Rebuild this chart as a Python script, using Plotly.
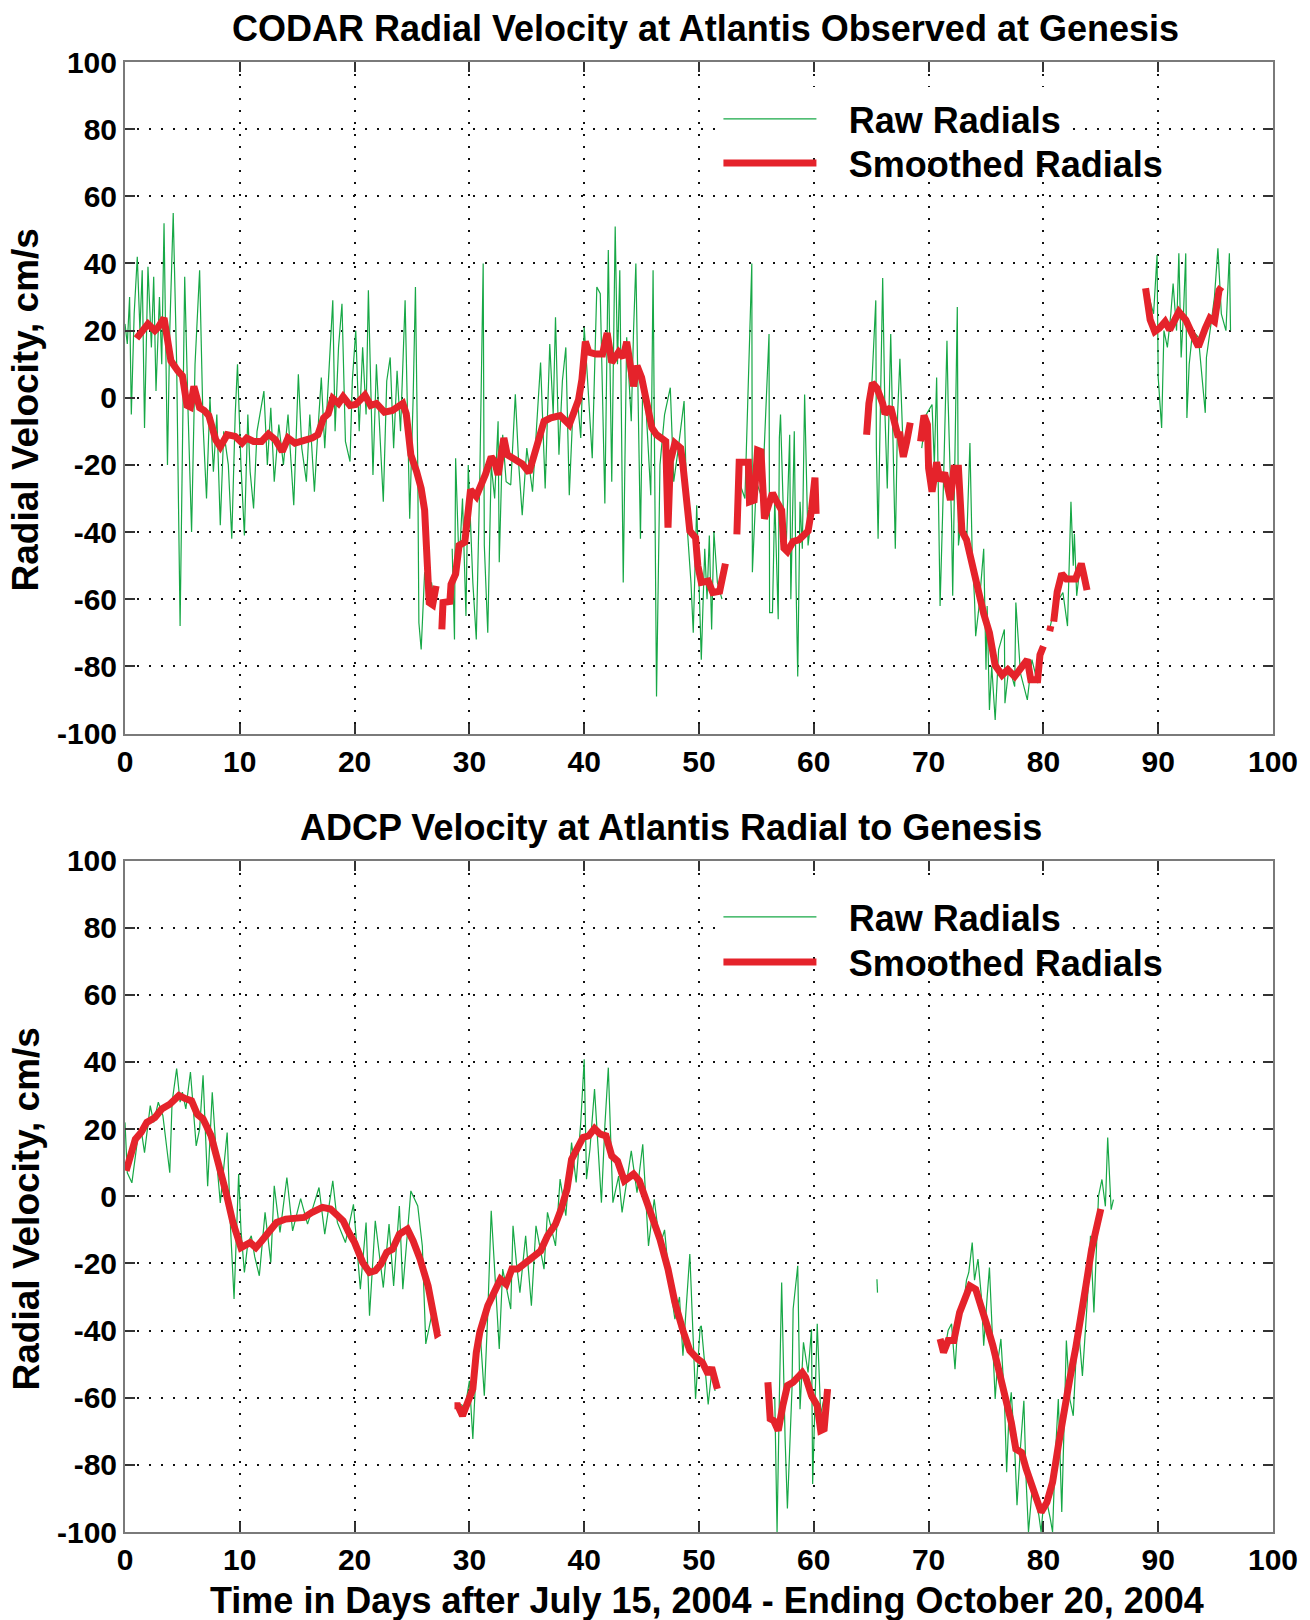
import plotly.graph_objects as go

N = None
# ---------------- Top panel: CODAR ----------------
codar_raw_day = [
    0.0, 0.2, 0.4, 0.55, 0.8, 1.07, 1.3, 1.5, 1.7, 2.0, 2.3, 2.5, 2.7, 3.0, 3.2, 3.4, 3.7, 3.9, 4.2, 4.5,
    4.8, 5.0, 5.2, 5.5, 5.8, 6.1, 6.5, 6.8, 7.1, 7.4, 7.7, 8.0, 8.3, 8.6, 9.0, 9.3, 9.6, 9.8, 10.1, 10.4,
    10.7, 10.9, 11.2, 11.5, 12.1, 12.4, 12.7, 13.0, 13.4, 13.8, 14.2, 14.7, 15.1, 15.4, 15.8, 16.1, 16.5,
    16.8, 17.1, 17.4, 17.7, 18.1, 18.3, 18.6, 18.9, 19.2, 19.6, 19.8, 20.1, 20.4, 20.7, 21.0, 21.2, 21.6,
    21.9, 22.2, 22.5, 22.8, 23.1, 23.4, 23.7, 24.0, 24.4, 24.8, 25.1, 25.3, 25.5, 25.6, 25.8, 26.1, 26.4,
    26.7, 27.0, N,
    28.5, 28.7, 28.8, 29.1, 29.4, 29.7, 29.9, 30.1, 30.3, 30.6, 30.9, 31.2, 31.3, 31.6, 31.9, 32.2, 32.5,
    32.6, 32.9, 33.2, 33.6, 34.0, 34.3, 34.6, 35.0, 35.5, 35.8, 36.2, 36.6, 37.0, 37.3, 37.5, 37.8, 38.1,
    38.4, 38.7, 39.0, 39.4, 39.7, 40.0, 40.3, 40.7, 41.1, 41.4, 41.6, 41.8, 42.1, 42.4, 42.7, 42.9, 43.1,
    43.4, 43.7, 44.1, 44.3, 44.5, 44.9, 45.1, 45.4, 45.8, 46.0, 46.3, 46.6, 47.0, 47.5, 47.8, 48.2, 48.7,
    49.0, 49.3, 49.5, 49.8, 50.2, 50.5, 50.7, 50.9, 51.1, 51.3, 51.6, 52.0, N,
    53.5, 54.0, 54.6, 54.65, 55.0, 55.5, 56.1, 56.15, 56.4, 56.6, 56.9, 57.0, 57.1, 57.4, 57.6, 57.9, 58.0,
    58.3, 58.45, 58.6, 58.8, 59.0, 59.2, 59.5, 59.8, 60.1, N,
    64.7, 65.0, 65.4, 65.45, 65.6, 65.8, 66.0, 66.2, 66.4, 66.7, 66.9, 67.1, 67.3, 67.5, 67.8, 68.1, N,
    69.4, 69.8, 70.3, 70.5, 70.7, 70.9, 71.0, 71.3, 71.6, 71.7, 72.0, 72.1, 72.3, 72.5, 72.6, 72.9, 73.3,
    73.6, 73.8, 74.0, 74.1, 74.4, 74.8, 75.0, 75.1, 75.3, 75.5, 75.8, 76.1, 76.6, 76.65, 77.0, 77.5, 77.6,
    78.0, 78.6, 79.0, 79.5, 80.0, N,
    80.6, 81.0, 81.7, 82.1, 82.4, 82.6, 82.7, 82.9, 83.2, 83.5, N,
    89.2, 89.6, 89.9, 90.0, 90.3, 90.5, 90.8, 91.1, 91.3, 91.6, 91.8, 92.0, 92.2, 92.4, 92.5, 92.7, 93.0,
    93.5, 94.1, 94.2, 94.6, 94.9, 95.2, 95.5, 95.9, 96.2, 96.3,
]
codar_raw_vel = [
    22, 16, 30, -5, 25, 42, 20, 38, -9, 39, 15, 36, 2, 30, 10, 52, -20, 20, 55, 10,
    -68, -10, 36, -5, -40, 10, 38, -8, -30, 0, -22, -5, -38, -10, -20, -42, -5, 10, -20, -41,
    -5, -22, -33, -10, 2, -20, -3, -25, -8, -20, -5, -32, 7, -15, -25, -5, -28,
    -10, 6, -15, 5, 29, -10, 15, 28, -13, -19, 5, 20, -10, 15, -5, 32, -23,
    10, -10, -31, 5, 12, -15, 8, -10, 29, -36, 0, 33, -20, -67, -75, -52, -60,
    -55, -62, N,
    -45, -72, -18, -50, -30, -65, -20, -40, -55, -72, -25, 40, -44, -70, -20, -30, -7,
    -49, -11, -25, -26, 1, -20, -35, -15, -28, -10, 10.5, -27, 16, -5, 24, -17, 5,
    15, -29, -5, 0, -12, 21, 5, -18, 33, 31, 0, -31.5, 44, -25, 51, 10, 38,
    -55, 18, -7, 20, 40, -42, 5, -4, -29, 38, -89, -20, -5, 3, -25, -15, -1,
    -40, -55, -70, -32, -78, -45, -60, -41, -69, -40, -55, -60, N,
    -25, -30, 40, -52, -25, -30, 19, -64, -64, -30, -66, -12, -5, -40, -44, -11, -60,
    -10, -55, -83, -31, -45, 1, -44, -35, -28, N,
    -10, 0, 29, -15, -42, 0, 35.7, -5, -27, 19, -10, -45, -5, 11.6, -17, -10, N,
    -15, -5, -2, -20, 6, -51, -62, -25, 17, -1, -37, -59, -20, 27, -44, -35, -45,
    -13.5, -47, -60, -71, -62, -45, -81, -62, -93, -80, -96, -75, -69, -91, -80, -86, -61,
    -82, -90, -78, -85, -75, N,
    -68, -62, -58, -68, -31, -50, -40.5, -59, -50, -55, N,
    30, 25, 42.5, 6, -9, 20, 15, 25, 34, 20, 43, 12, 25, 43, -6, 10, 20,
    18, -4.5, 12, 22, 30, 44.5, 25, 20, 43, 20,
]
codar_smooth_day = [
    1.0, 1.4, 2.0, 2.6, 2.9, 3.4, 3.7, 4.0, 4.6, 5.0, 5.4, 5.7, 6.0, 6.5, 6.9, 7.3, 7.9, 8.3, 8.9, 9.6,
    10.2, 10.6, 11.2, 11.9, 12.5, 13.1, 13.7, 14.2, 14.8, 15.5, 16.3, 16.8, 17.3, 17.7, 18.1, 18.6, 19.0,
    19.6, 20.1, 20.9, 21.4, 21.9, 22.6, 23.3, 23.7, 24.2, 24.5, 24.9, 25.4, 25.8, 26.1, 26.4, 26.5, 26.8,
    27.1, N,
    27.6, 27.7, 28.3, 28.4, 28.8, 29.1, 29.6, 29.9, 30.1, 30.6, 31.2, 31.4, 31.9, 32.2, 32.5, 32.7, 33.0,
    33.3, 34.0, 34.6, 35.2, 35.6, 36.1, 36.5, 37.1, 37.9, 38.7, 39.1, 39.5, 39.8, 40.1, 40.4, 41.0, 41.6,
    42.0, 42.4, 43.0, 43.4, 43.7, 44.3, 44.6, 45.0, 45.5, 45.9, 46.3, 46.8, 47.1, 47.3, 47.5, 47.9, 48.4,
    48.6, 48.9, 49.2, 49.7, 49.9, 50.2, 50.8, 51.2, 51.8, 52.3, N,
    53.3, 53.5, 54.3, 54.4, 54.8, 55.1, 55.4, 55.7, 56.1, 56.4, 56.7, 57.2, 57.4, 57.7, 58.2, 58.7, 59.5,
    59.8, 60.1, 60.2, N,
    64.6, 64.8, 65.1, 65.5, 66.0, 66.2, 66.7, 67.0, 67.3, 67.5, 67.8, 68.1, 68.4, N,
    69.3, 69.6, 69.9, 70.0, 70.3, 70.7, 71.0, 71.4, 71.9, 72.2, 72.6, 72.9, 73.3, 73.8, 74.3, 74.8, 75.3,
    75.8, 76.4, 76.9, 77.5, 78.0, 78.6, 78.9, 79.5, 79.7, 80.0, N,
    80.55, 80.65, N,
    80.9, 81.2, 81.6, 82.0, 82.8, 83.3, 83.5, 83.8, N,
    88.9, 89.3, 89.7, 90.1, 90.6, 91.0, 91.8, 92.4, 93.0, 93.5, 94.1, 94.5, 94.9, 95.3, 95.5,
]
codar_smooth_vel = [
    17.7, 19.3, 22, 20, 21, 23.7, 15.7, 11, 8, 6.5, -2.3, -2.8, 3.4, -3, -3.8, -5.3, -12.5, -14.6, -11, -11.5,
    -13.5, -12, -13, -13, -10.8, -12.5, -16, -12, -13.5, -13, -12, -11, -6, -4.8, -0.2, -1.7, 0.3,
    -2.3, -2, 0.8, -2.3, -1.7, -4.3, -3.8, -2.8, -1.7, -4.8, -17, -22, -27, -33.5, -49, -61, -61.7,
    -56, N,
    -69, -61, -60.7, -55.6, -52.5, -44, -43, -35.6, -27.4, -29.4, -25.3, -22.8, -17.6, -19, -23, -17.6, -12,
    -17, -18.7, -19.7, -22.3, -17, -12, -7, -6, -5.3, -8, -3.8, -0.7, 5.4, 16.7, 13.6, 13, 13,
    19.3, 10.5, 13.6, 12, 16.7, 3.4, 9.5, 6, -1.7, -9, -11, -12, -13, -38.7, -19, -13.5, -15,
    -20, -31.5, -39.7, -41.7, -50, -55, -54.6, -58, -57.6, -49.4, N,
    -40.7, -19.2, -19.2, -31, -30.5, -15.6, -16, -36, -31.5, -28.4, -30.5, -33.5, -44.8, -45.8, -42.8, -42.3, -39.7,
    -33.5, -23.8, -34.6, N,
    -11, -1.7, 4.4, 2.9, -1.7, -4.8, -2.8, -7, -11, -11, -17.6, -13, -7.4, N,
    -13, -5.3, -8, -21, -28, -19.2, -24.8, -22.3, -30.5, -21, -21, -39.7, -42.3, -50, -57, -64.3, -70,
    -79.7, -82.6, -81, -83, -81, -78, -84, -84, -76.6, -74, N,
    -69.5, -68, N,
    -66.7, -57.8, -52.4, -54, -54, -49.4, -52.4, -57.3, N,
    32.6, 23.2, 19.7, 20.7, 22.7, 20.2, 25.6, 23.2, 18.7, 15.2, 20.7, 23.7, 22.7, 32, 33,
]

# ---------------- Bottom panel: ADCP ----------------
adcp_raw_day = [
    0.0, 0.2, 0.6, 1.1, 1.4, 1.7, 2.2, 2.5, 2.9, 3.3, 3.9, 4.1, 4.5, 4.8, 5.0, 5.3, 5.7, 6.0, 6.2, 6.5,
    6.8, 7.2, 7.6, 8.0, 8.3, 8.9, 9.2, 9.5, 9.9, 10.1, 10.4, 10.7, 11.0, 11.3, 11.7, 12.2, 12.7, 13.0,
    13.5, 14.1, 14.6, 15.3, 15.9, 16.4, 16.9, 17.4, 18.1, 18.5, 19.2, 19.9, 20.5, 21.0, 21.3, 21.8, 22.5,
    23.0, 23.4, 23.9, 24.2, 24.9, 25.5, 25.9, 26.2, 26.7, 27.2, N,
    29.3, 29.6, 30.0, 30.3, 30.6, 30.9, 31.3, 31.6, 31.9, 32.3, 32.6, 32.9, 33.3, 33.6, 33.8, 34.1, 34.4,
    34.9, 35.4, 35.8, 36.5, 36.8, 37.5, 37.9, 38.4, 38.9, 39.3, 39.7, 40.0, 40.2, 40.5, 40.9, 41.2, 41.5,
    41.8, 42.1, 42.5, 43.0, 43.3, 43.7, 44.1, 44.6, 45.1, 45.6, 46.1, 46.6, 47.0, 47.4, 47.9, 48.3, 48.6,
    49.2, 49.7, 50.1, 50.2, 50.5, 50.8, 51.1, 51.4, N,
    56.6, 56.8, 57.0, 57.2, 57.5, 57.7, 58.1, 58.2, 58.6, 58.8, 59.1, 59.5, 59.8, 59.9, 60.3, 60.6, 60.9, N,
    65.5, 65.55, N,
    71.0, 71.4, 71.7, 72.0, 72.3, 72.6, 73.0, 73.3, 73.5, 73.8, 74.0, 74.3, 74.6, 74.8, 75.1, 75.3, 75.6,
    75.8, 76.0, 76.3, 76.6, 76.8, 77.0, 77.2, 77.5, 77.7, 78.0, 78.3, 78.5, 78.7, 79.0, 79.3, 79.6, 79.8,
    80.0, 80.3, 80.6, 80.8, 81.0, 81.3, 81.6, 82.0, 82.3, 82.6, 83.0, 83.4, 83.9, 84.1, 84.4, 84.8, 85.1,
    85.4, 85.6, 85.9, 86.1,
]
adcp_raw_vel = [
    22, 7, 4, 17, 20, 13, 27, 22, 28, 24, 7, 28, 38, 28, 31, 26, 37, 25, 15, 20,
    36, 3, 31, 10, -2, 19, -10, -30.6, 6.6, -10, -22.7, -14, -11.8, -18, -23.7, -4.8, -19.7, 3.1,
    -10.8, 5.6, -10.3, -0.7, -8.3, -3, 2.6, -11.3, 4.6, -7.8, -13.8, -2.4, -27.7, -7.8, -35.6, -7.3, -27.2,
    -8.3, -26.7, -2.9, -27.7, 1.6, -2.9, -14.8, -44, -35.6, -41.5, N,
    -62, -63.4, -55, -72.3, -50, -38.6, -59.4, -35, -4.3, -30, -45.5, -21.7, -28, -33.6, -8.8, -20, -28.7,
    -11.8, -32.6, -8.8, -21.7, -4.8, -14.8, 5.1, -5.8, 16, 4.1, 22, 40.8, 5.1, 14, 31.9, 15, -1.9,
    21, 38.3, -1.9, 6, -4.8, 5, 13.5, 1.1, 15.5, -14.8, -0.9, -14.8, -10, -24.7, -36.6, -30, -47.5,
    -17.2, -60.4, -39, -38.6, -50, -62, -52.5, -58, N,
    -60, -100, -60, -25.7, -72.3, -93, -57.4, -33.6, -20.7, -63.4, -43.5, -52.5, -39.6, -85.7, -38, -65, -60, N,
    -24.7, -28.7, N,
    -43.5, -46, -40, -38, -51.5, -35, -33.6, -25, -22.7, -13.8, -25, -18.7, -30, -44.5, -30, -21.2, -45,
    -60.4, -50, -42.5, -60, -82.2, -65, -58.4, -75, -92, -75, -60.9, -85, -100, -88, -90.2, -95, -100,
    -92, -91, -96, -100, -80, -60.4, -94, -43, -60.4, -65.4, -36.6, -53.5, -27.2, -11.8, -34.6, 0, 5,
    -3, 17.5, -4, -1,
]
adcp_smooth_day = [
    0.1, 0.4, 0.9, 1.4, 1.9, 2.6, 3.2, 3.9, 4.7, 5.3, 5.8, 6.3, 6.8, 7.5, 8.1, 8.8, 9.4, 10.1, 10.9, 11.4,
    11.9, 12.5, 13.2, 14.0, 15.0, 15.6, 16.3, 17.2, 17.9, 18.5, 19.0, 19.5, 20.0, 20.7, 21.3, 21.8, 22.3,
    22.8, 23.3, 23.9, 24.6, 25.1, 25.7, 26.4, 26.9, 27.2, 27.4, N,
    28.7, 29.0, 29.4, 29.8, 30.3, 30.6, 30.9, 31.6, 32.3, 32.7, 33.2, 33.7, 34.2, 34.9, 35.5, 36.2, 36.8,
    37.5, 38.0, 38.5, 38.9, 39.4, 39.9, 40.4, 40.9, 41.4, 41.9, 42.4, 42.9, 43.5, 44.3, 44.8, 45.3, 46.0,
    46.6, 47.3, 47.9, 48.6, 49.2, 49.9, 50.3, 50.8, 51.1, 51.6, N,
    56.0, 56.2, 56.5, 56.9, 57.3, 57.7, 58.2, 58.5, 59.0, 59.3, 59.8, 60.3, 60.6, 60.9, 61.2, N,
    71.0, 71.3, 71.7, 72.2, 72.7, 73.1, 73.6, 74.1, 74.6, 75.1, 75.6, 76.1, 76.6, 77.2, 77.6, 78.1, 78.5,
    79.0, 79.3, 79.8, 80.3, 80.8, 81.3, 81.8, 82.3, 82.8, 83.3, 83.7, 84.2, 84.7, 85.0,
]
adcp_smooth_vel = [
    7.6, 11, 17, 19, 22, 23.4, 26, 27.4, 30, 29, 28.4, 24.4, 23, 18, 11, 1.1, -7.8, -15.3, -13.8, -15.3,
    -13.3, -10.8, -7.8, -6.8, -6.8, -6.3, -4.8, -3.3, -3.8, -5.8, -7.3, -10.8, -13.8, -19.7, -22.7, -22.2, -20.2,
    -16.7, -15.8, -11.3, -9.8, -13.3, -18.7, -26.7, -34.6, -41, -40.6, N,
    -62.4, -62.4, -65.4, -61.4, -57.4, -46.5, -40.6, -32.6, -27.7, -24.7, -26.2, -21.7, -21.7, -19.7, -17.7, -16.3, -11.8,
    -8.3, -3.8, 2.1, 11, 14, 17.5, 18, 20.2, 18.5, 18, 12, 10.5, 4.6, 6.6, 4.6, 0.1, -6.8,
    -12.8, -21.7, -31.6, -40, -46, -48.5, -49.5, -53, -51, -57.4, N,
    -55.4, -66.3, -66.8, -69.8, -62.4, -56.4, -55.4, -54.4, -52.5, -54, -59.4, -62.4, -69.8, -69.3, -57.4, N,
    -42.5, -46.5, -43, -43, -34.6, -30.6, -26.7, -27.7, -32.6, -38.6, -44.5, -51.5, -58.9, -67.3, -75.3, -76.3, -81.2,
    -86.2, -88.7, -94.1, -91.2, -85.2, -74.3, -63.4, -54.4, -45.5, -36.6, -26.7, -15.8, -7.8, -3.8,
]

# ---------------- Text and ticks ----------------
titles = ["CODAR Radial Velocity at Atlantis Observed at Genesis",
          "ADCP Velocity at Atlantis Radial to Genesis"]
y_title = "Radial Velocity, cm/s"
x_title = "Time in Days after July 15, 2004 - Ending October 20, 2004"
series_names = ["Raw Radials", "Smoothed Radials"]
x_tick_vals = [0, 10, 20, 30, 40, 50, 60, 70, 80, 90, 100]
x_tick_labels = ["0", "10", "20", "30", "40", "50", "60", "70", "80", "90", "100"]
y_tick_vals = [-100, -80, -60, -40, -20, 0, 20, 40, 60, 80, 100]
y_tick_labels = ["-100", "-80", "-60", "-40", "-20", "0", "20", "40", "60", "80", "100"]

GREEN = "#17a846"
RED = "#e5232b"
FONT = "Liberation Sans"
GAP = "\u00a0\u00a0\u2009"

fig = go.Figure()
fig.add_trace(go.Scatter(x=codar_raw_day, y=codar_raw_vel, mode="lines", name=GAP + series_names[0],
                         line=dict(color=GREEN, width=1.2), xaxis="x", yaxis="y", legend="legend"))
fig.add_trace(go.Scatter(x=codar_smooth_day, y=codar_smooth_vel, mode="lines", name=GAP + series_names[1],
                         line=dict(color=RED, width=7), xaxis="x", yaxis="y", legend="legend2"))
fig.add_trace(go.Scatter(x=adcp_raw_day, y=adcp_raw_vel, mode="lines", name=GAP + series_names[0],
                         line=dict(color=GREEN, width=1.2), xaxis="x2", yaxis="y2", legend="legend3"))
fig.add_trace(go.Scatter(x=adcp_smooth_day, y=adcp_smooth_vel, mode="lines", name=GAP + series_names[1],
                         line=dict(color=RED, width=7), xaxis="x2", yaxis="y2", legend="legend4"))

tickfont = dict(family=FONT, size=30, color="black", weight="bold")
common_x = dict(range=[0, 100], tickmode="array", tickvals=x_tick_vals, ticktext=x_tick_labels,
                ticks="inside", ticklen=10, tickwidth=1.5,
                tickcolor="#333", mirror="allticks", showline=True, linecolor="#7a7a7a", linewidth=2,
                showgrid=True, gridcolor="#111", griddash="2px,10px", gridwidth=2, zeroline=False,
                tickfont=tickfont, fixedrange=True)
common_y = dict(range=[-100, 100], tickmode="array", tickvals=y_tick_vals, ticktext=y_tick_labels,
                ticks="inside", ticklen=10, tickwidth=1.5,
                tickcolor="#333", mirror="allticks", showline=True, linecolor="#7a7a7a", linewidth=2,
                showgrid=True, gridcolor="#111", griddash="2px,10px", gridwidth=2, zeroline=False,
                tickfont=tickfont, fixedrange=True)

H = 1620
W = 1310
T, B, L, R = 62, 88, 125, 32
plot_h = H - T - B
plot_w = W - L - R

def py(pix):
    return 1 - (pix - T) / plot_h

def px(pix):
    return (pix - L) / plot_w

legend_font = dict(family=FONT, size=36, color="black", weight="bold")

def leg(ycen, bg):
    return dict(x=px(717), y=py(ycen), xanchor="left", yanchor="middle", bgcolor=bg,
                bordercolor="rgba(0,0,0,0)", borderwidth=4, font=legend_font, itemwidth=93)

title_font = dict(family=FONT, size=36, color="black", weight="bold")
fig.update_layout(
    width=W, height=H,
    margin=dict(l=L, r=R, t=T, b=B),
    paper_bgcolor="white", plot_bgcolor="white",
    xaxis=dict(domain=[0, 1], anchor="y", **common_x),
    yaxis=dict(domain=[py(733.5), 1], anchor="x", **common_y),
    xaxis2=dict(domain=[0, 1], anchor="y2", **common_x),
    yaxis2=dict(domain=[0, py(860.5)], anchor="x2", **common_y),
    legend=leg(119, "white"), legend2=leg(163, "rgba(0,0,0,0)"),
    legend3=leg(917, "white"), legend4=leg(962, "rgba(0,0,0,0)"),
    annotations=[
        dict(text=titles[0], x=px(708), y=py(29), xref="paper", yref="paper", showarrow=False,
             xanchor="center", yanchor="middle", font=title_font),
        dict(text=titles[1], x=px(673.5), y=py(827), xref="paper", yref="paper", showarrow=False,
             xanchor="center", yanchor="middle", font=title_font),
        dict(text=y_title, x=px(26), y=py(410), xref="paper", yref="paper", showarrow=False,
             xanchor="center", yanchor="middle", textangle=-90,
             font=dict(family=FONT, size=37, color="black", weight="bold")),
        dict(text=y_title, x=px(26), y=py(1209), xref="paper", yref="paper", showarrow=False,
             xanchor="center", yanchor="middle", textangle=-90,
             font=dict(family=FONT, size=37, color="black", weight="bold")),
        dict(text=x_title, x=px(710), y=py(1600), xref="paper", yref="paper", showarrow=False,
             xanchor="center", yanchor="middle", font=title_font),
    ],
    showlegend=True,
)

fig.write_html("out.html", config={"displayModeBar": False},
               post_script="document.body.style.margin='0px';document.body.style.overflow='hidden';")
